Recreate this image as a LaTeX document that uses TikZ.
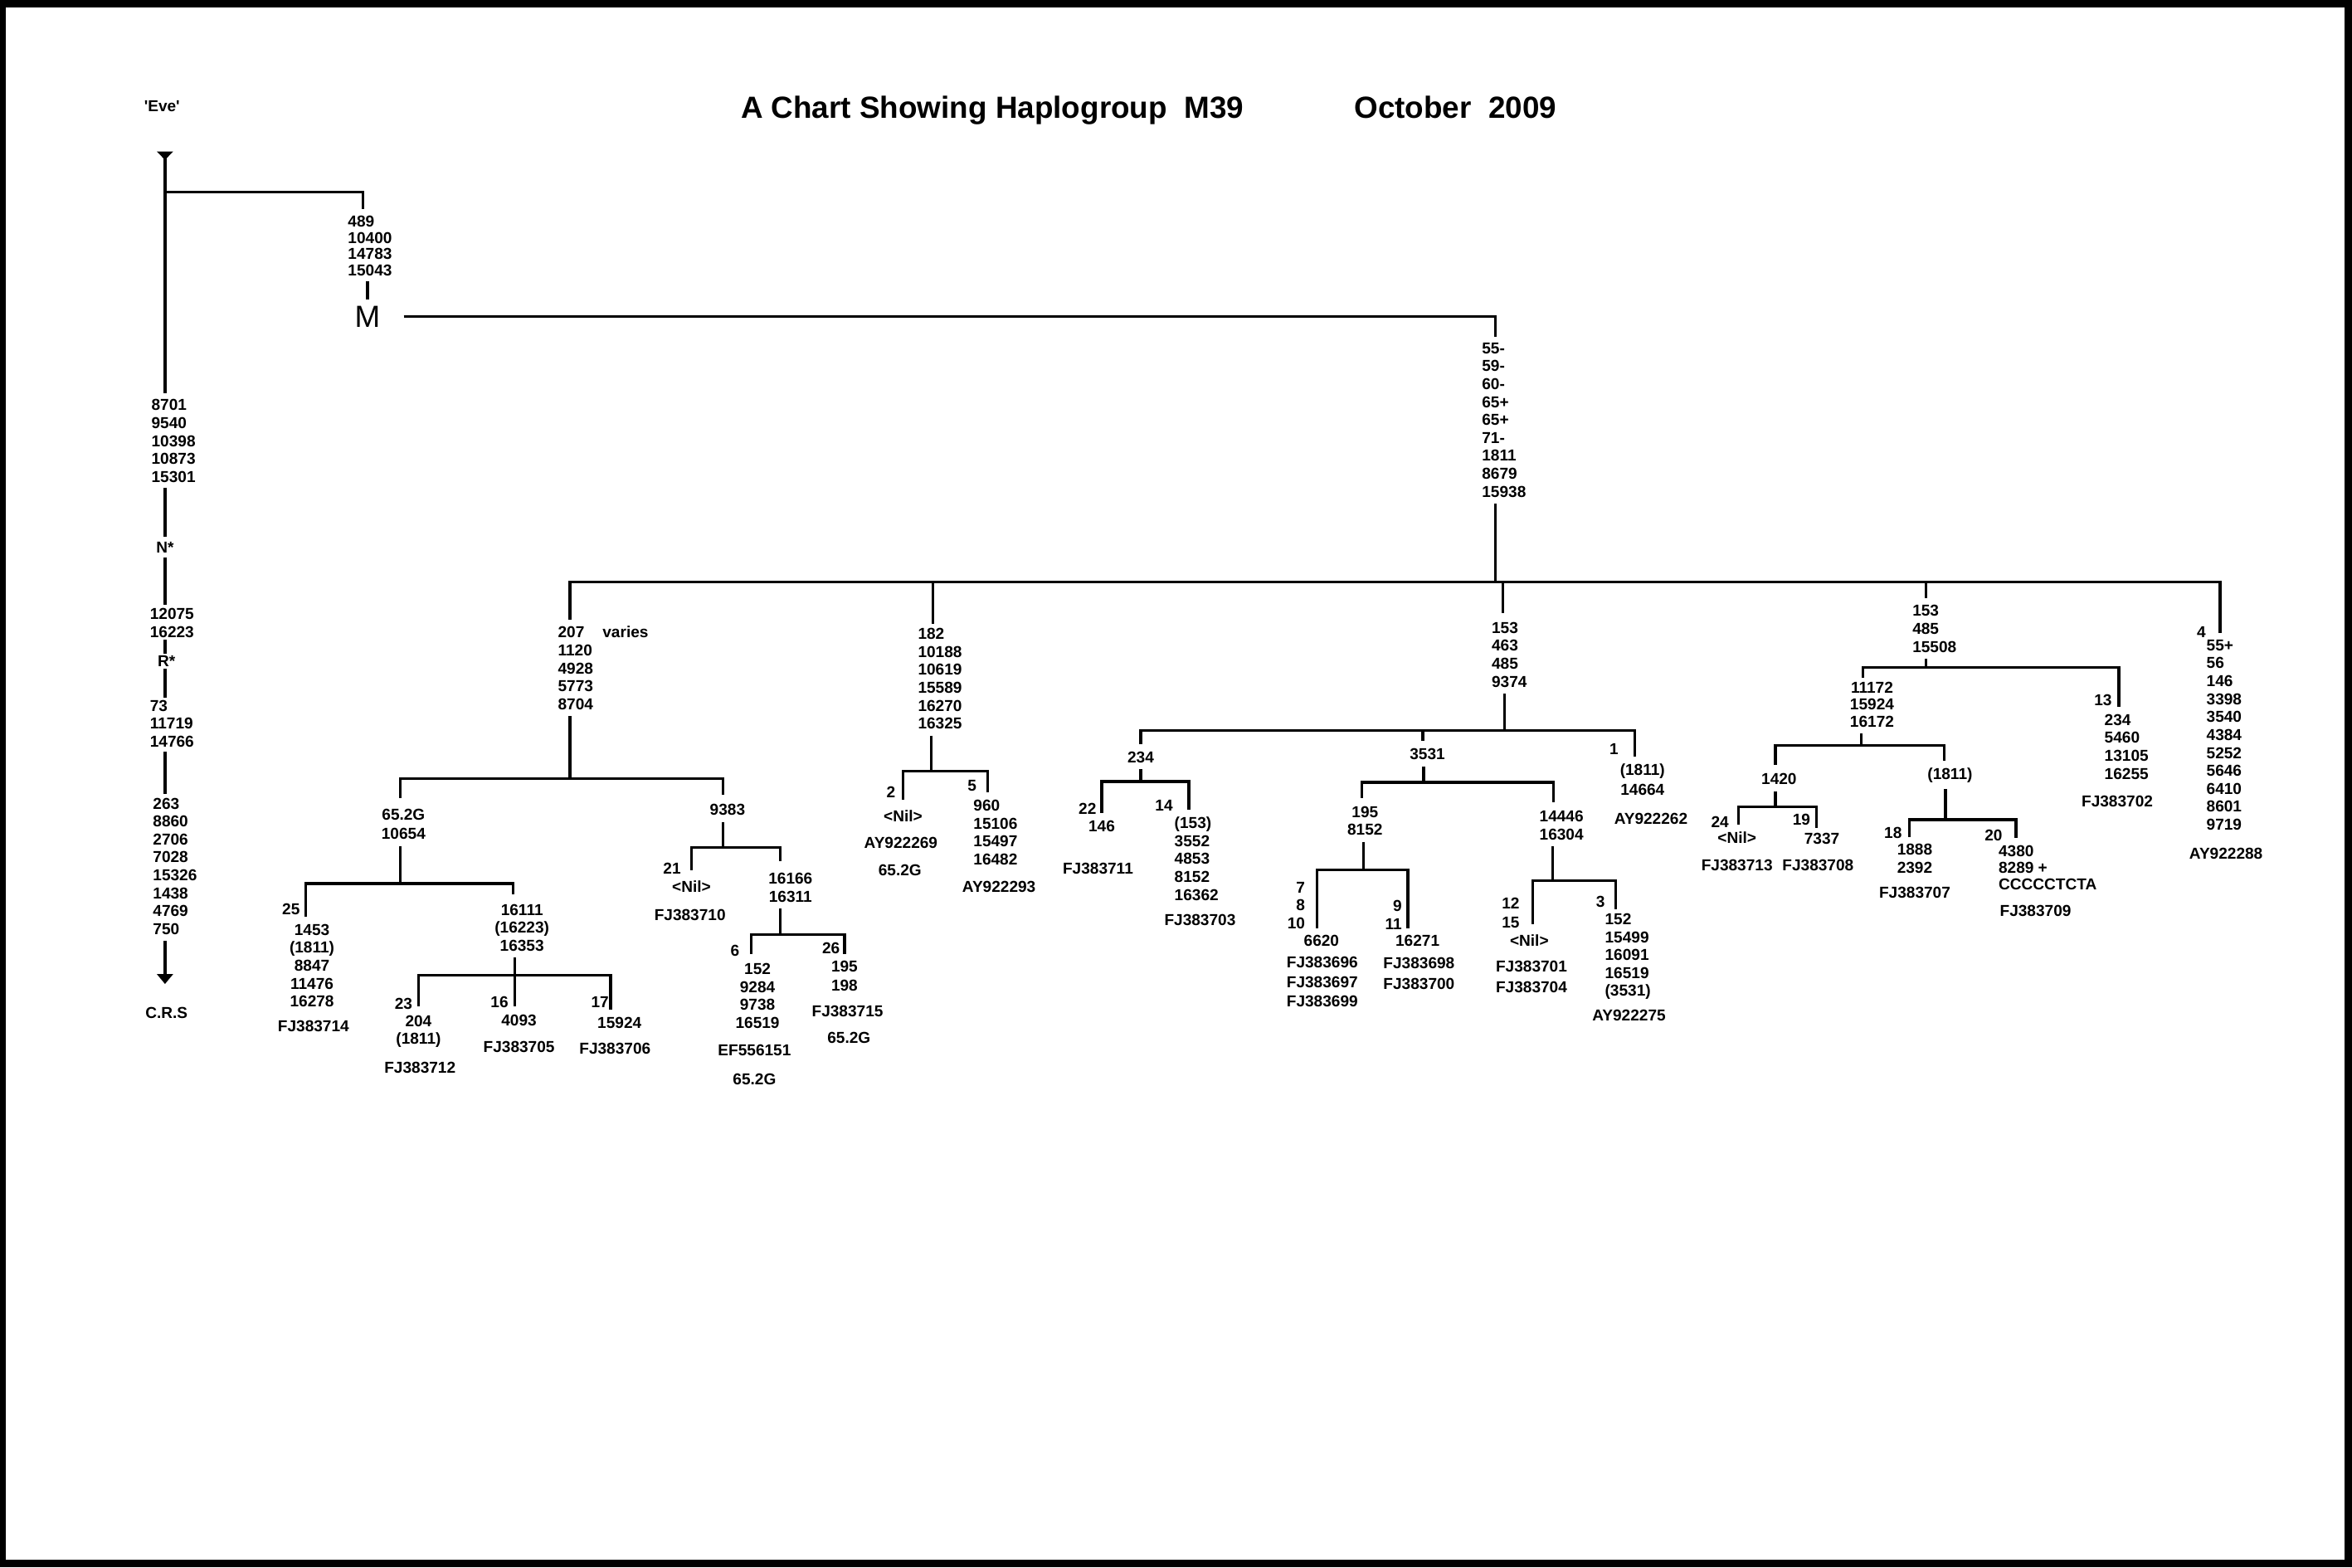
\documentclass[tikz,border=0pt]{standalone}
\usepackage{fontspec}
\setmainfont{Liberation Sans}
\usetikzlibrary{arrows.meta}

\tikzset{
  lbl/.style={font=\bfseries\fontsize{15}{17}\selectfont, inner sep=0pt, outer sep=0pt, align=center},
  lbll/.style={lbl, align=left, anchor=west},
  lblr/.style={lbl, align=right, anchor=east},
  big/.style={font=\bfseries\fontsize{29}{34}\selectfont, inner sep=0pt, anchor=base west},
  stub/.style={shorten <=6pt},
  link/.style={shorten <=5pt, shorten >=5pt},
}

\begin{document}
\begin{tikzpicture}[x=0.05cm, y=-0.05cm, line width=2.6pt]
\fill (0,0) rectangle (1568,1045);
\fill[white] (4,5) rectangle (1563,1040);

\node[big] (title) at (493,79) {A Chart Showing Haplogroup~~M39};
\node[big] (date) at (902,79) {October~~2009};

% left column down to the C.R.S
\node[lbl] (eve) at (108,71) {\textquotesingle Eve\textquotesingle};
\coordinate (top) at (110,101);
\coordinate (jEve) at (110,128);
\coordinate (j489) at (242,128);
\node[lbll] (col1) at (101,294) {8701\\9540\\10398\\10873\\15301};
\node[lbl] (nstar) at (110,365) {N*};
\node[lbll] (col2) at (100,415.5) {12075\\16223};
\node[lbl] (rstar) at (111,441) {R*};
\node[lbll] (col3) at (100,482.5) {73\\11719\\14766};
\node[lbll] (col4) at (102,577.5) {263\\8860\\2706\\7028\\15326\\1438\\4769\\750};
\coordinate (tcrs) at (110,656);
\node[lbl] (crs) at (111,675) {C.R.S};

\draw[{Triangle[reversed,width=15pt,length=8pt]}-, shorten >=6pt] (top) -- (col1.north -| top);
\foreach \a/\b/\s in {col1/nstar/5pt, nstar/col2/4pt, col2/rstar/2pt, rstar/col3/2pt, col3/col4/4pt}
  \draw[shorten <=\s, shorten >=\s] (\a.south -| top) -- (\b.north -| top);
\draw[-{Triangle[width=15pt,length=9.5pt]}, stub] (col4.south -| top) -- (tcrs);

% M
\node[lbll, font=\bfseries\fontsize{15}{15.6}\selectfont] (mut489) at (232,164) {489\\10400\\14783\\15043};
\node[font=\fontsize{29}{34}\selectfont, inner sep=0pt] (m) at (245,211) {M};
\draw[shorten >=6pt] (jEve) -- (j489) -- (mut489.north -| j489);
\draw[link] (mut489.south -| m) -- (m.north);
\coordinate (jMain) at (997,388);
\node[lbll] (mutM) at (988,280) {55-\\59-\\60-\\65+\\65+\\71-\\1811\\8679\\15938};
\draw[shorten <=21pt, shorten >=6pt] (m.east) -| (mutM.north -| jMain);

% branch points
\coordinate (j207) at (380,519);
\coordinate (j652) at (267,589);
\coordinate (j16111) at (343,650);
\coordinate (j9383) at (482,565);
\coordinate (j16166) at (520,623);
\coordinate (j182) at (621,514);
\coordinate (j153a) at (1003,487);
\coordinate (j234) at (760.5,521);
\coordinate (j3531) at (949,521.5);
\coordinate (j195) at (909,580);
\coordinate (j14446) at (1035,587);
\coordinate (j153b) at (1284,445);
\coordinate (j11172) at (1241,497);
\coordinate (j1420) at (1183.6,538);
\coordinate (j1811) at (1297,546.4);

% line ends
\coordinate (t207) at (380,413);
\coordinate (t182) at (622,416);
\coordinate (t153a) at (1002,409);
\coordinate (t153b) at (1284,399);
\coordinate (t4) at (1480,422);
\coordinate (t652) at (267,532);
\coordinate (t9383) at (482,530);
\coordinate (t25) at (204,611);
\coordinate (t16111) at (342,596);
\coordinate (t23) at (279,671);
\coordinate (t16) at (343,671);
\coordinate (t17) at (407,673);
\coordinate (t21) at (461,580);
\coordinate (t16166) at (520,574);
\coordinate (t6) at (501,636);
\coordinate (t26) at (563,636);
\coordinate (t2) at (602,533);
\coordinate (t5) at (658.5,528);
\coordinate (t234) at (760.5,496);
\coordinate (t3531) at (948.6,494);
\coordinate (t1) at (1090,504.5);
\coordinate (t22) at (734.5,542);
\coordinate (t14) at (792.6,540);
\coordinate (t195) at (908,532);
\coordinate (t14446) at (1035.5,535);
\coordinate (t7) at (878,619);
\coordinate (t9) at (938.6,619);
\coordinate (t12) at (1022,616);
\coordinate (t3) at (1077,606);
\coordinate (t11172) at (1242,452);
\coordinate (t13) at (1412.6,471);
\coordinate (t1420) at (1183.6,510);
\coordinate (t1811) at (1296,507);
\coordinate (t24) at (1159,550);
\coordinate (t19) at (1211,552);
\coordinate (t18) at (1273,558);
\coordinate (t20) at (1344,558.6);

% 207 branch
\node[lbll] (b207) at (372,445.5) {207\\1120\\4928\\5773\\8704};
\node[lbl] (varies) at (417,421) {varies};
\node[lbl] (b652) at (269,549.5) {65.2G\\[1.4pt]10654};
\node[lbl] (id25) at (194,606) {25};
\node[lbl] (b1453) at (208,643.7) {1453\\(1811)\\8847\\11476\\16278};
\node[lbl] (acc714) at (209,684) {FJ383714};
\node[lbl] (b16111) at (348,618.5) {16111\\(16223)\\16353};
\node[lbl] (id23) at (269,669) {23};
\node[lbl] (b204) at (279,687.7) {204\\(1811)};
\node[lbl] (acc712) at (280,712) {FJ383712};
\node[lbl] (id16) at (333,668) {16};
\node[lbl] (b4093) at (346,680) {4093};
\node[lbl] (acc705) at (346,698) {FJ383705};
\node[lbl] (id17) at (400,668) {17};
\node[lbl] (b15924) at (413,682) {15924};
\node[lbl] (acc706) at (410,699) {FJ383706};
\node[lbl] (b9383) at (485,540) {9383};
\node[lbl] (id21) at (448,579) {21};
\node[lbl] (nil21) at (461,591) {<Nil>};
\node[lbl] (acc710) at (460,610) {FJ383710};
\node[lbl] (b16166) at (527,591.7) {16166\\16311};
\node[lbl] (id6) at (490,634) {6};
\node[lbl] (b152) at (505,664) {152\\9284\\9738\\16519};
\node[lbl] (acc151) at (503,700) {EF556151};
\node[lbl] (hg6) at (503,719.5) {65.2G};
\node[lbl] (id26) at (554,632) {26};
\node[lbl] (b195b) at (563,650.5) {195\\[1.4pt]198};
\node[lbl] (acc715) at (565,674) {FJ383715};
\node[lbl] (hg26) at (566,692) {65.2G};

% 182 branch
\node[lbll] (b182) at (612,452.5) {182\\10188\\10619\\15589\\16270\\16325};
\node[lbl] (id2) at (594,528) {2};
\node[lbl] (nil2) at (602,544) {<Nil>};
\node[lbl] (acc269) at (600.6,562) {AY922269};
\node[lbl] (hg2) at (600,580) {65.2G};
\node[lbl] (id5) at (648,524) {5};
\node[lbll] (b960) at (649,555) {960\\15106\\15497\\16482};
\node[lbl] (acc293) at (666,591) {AY922293};

% 153 463 485 9374 branch
\node[lbll] (b153a) at (994.5,436.5) {153\\463\\485\\9374};
\node[lbl] (b234) at (760.5,505) {234};
\node[lbl] (id22) at (725,539) {22};
\node[lbl] (b146) at (734.5,551) {146};
\node[lbl] (acc711) at (732,579) {FJ383711};
\node[lbl] (id14) at (776,537) {14};
\node[lbll] (b153c) at (783,572.5) {(153)\\3552\\4853\\8152\\16362};
\node[lbl] (acc703) at (800,613.5) {FJ383703};
\node[lbl] (b3531) at (951.6,503) {3531};
\node[lbl] (b195) at (910,547.2) {195\\8152};
\node[lblr] (id7) at (870,603.5) {7\\8\\10};
\node[lbl] (b6620) at (881,627) {6620};
\node[lbl] (acc696) at (881.5,654.6) {FJ383696\\[1.4pt]FJ383697\\[1.4pt]FJ383699};
\node[lblr] (id9) at (934.6,610) {9\\11};
\node[lbl] (b16271) at (945,627) {16271};
\node[lbl] (acc698) at (946,649) {FJ383698\\[2.8pt]FJ383700};
\node[lbl] (b14446) at (1041,550.2) {14446\\16304};
\node[lblr] (id12) at (1013,608.5) {12\\[1.4pt]15};
\node[lbl] (nil12) at (1019.5,627) {<Nil>};
\node[lbl] (acc701) at (1021,651.2) {FJ383701\\[2pt]FJ383704};
\node[lbl] (id3) at (1067,601) {3};
\node[lbll] (b152b) at (1070,637.7) {152\\15499\\16091\\16519\\(3531)};
\node[lbl] (acc275) at (1086,677) {AY922275};
\node[lbl] (id1) at (1076,499.5) {1};
\node[lbl] (b1811a) at (1095,519.8) {(1811)\\[2.4pt]14664};
\node[lbl] (acc262) at (1100.6,546) {AY922262};

% 153 485 15508 branch
\node[lbll] (b153b) at (1275,419.2) {153\\485\\15508};
\node[lbl] (b11172) at (1248,469.7) {11172\\[-1pt]15924\\[-1pt]16172};
\node[lbl] (b1420) at (1186,519.5) {1420};
\node[lbl] (id24) at (1146.6,548) {24};
\node[lbl] (nil24) at (1158,558.6) {<Nil>};
\node[lbl] (acc713) at (1158,577) {FJ383713};
\node[lbl] (id19) at (1201,546.6) {19};
\node[lbl] (b7337) at (1214.6,559) {7337};
\node[lbl] (acc708) at (1212,577) {FJ383708};
\node[lbl] (b1811) at (1300,517) {(1811)};
\node[lbl] (id18) at (1262,555) {18};
\node[lbl] (b1888) at (1276.5,572.3) {1888\\2392};
\node[lbl] (acc707) at (1276.5,595) {FJ383707};
\node[lbl] (id20) at (1329,557) {20};
\node[lbll] (b4380) at (1332.4,578.5) {4380\\[-1.4pt]8289 +\\[-1.4pt]CCCCCTCTA};
\node[lbl] (acc709) at (1357,607) {FJ383709};
\node[lbl] (id13) at (1402,467) {13};
\node[lbll] (b234b) at (1403,497.8) {234\\5460\\13105\\16255};
\node[lbl] (acc702) at (1411.5,534) {FJ383702};

% 55+ branch
\node[lbl] (id4) at (1467.6,421.3) {4};
\node[lbll] (b55) at (1471,490) {55+\\56\\146\\3398\\3540\\4384\\5252\\5646\\6410\\8601\\9719};
\node[lbl] (acc288) at (1484,569) {AY922288};

% tree lines
\foreach \n/\j in {mutM/jMain, b207/j207, b652/j652, b16111/j16111, b9383/j9383,
    b16166/j16166, b182/j182, b153a/j153a, b234/j234, b3531/j3531, b195/j195,
    b14446/j14446, b153b/j153b, b11172/j11172, b1420/j1420, b1811/j1811}
  \draw[stub] (\n.south -| \j) -- (\j);
\foreach \j/\t in {jMain/t207, jMain/t182, jMain/t153a, jMain/t153b, jMain/t4,
    j207/t652, j207/t9383, j652/t25, j652/t16111, j16111/t23, j16111/t16, j16111/t17,
    j9383/t21, j9383/t16166, j16166/t6, j16166/t26, j182/t2, j182/t5,
    j153a/t234, j153a/t3531, j153a/t1, j234/t22, j234/t14, j3531/t195, j3531/t14446,
    j195/t7, j195/t9, j14446/t12, j14446/t3, j153b/t11172, j153b/t13,
    j11172/t1420, j11172/t1811, j1420/t24, j1420/t19, j1811/t18, j1811/t20}
  \draw (\j) -| (\t);
\end{tikzpicture}
\end{document}
